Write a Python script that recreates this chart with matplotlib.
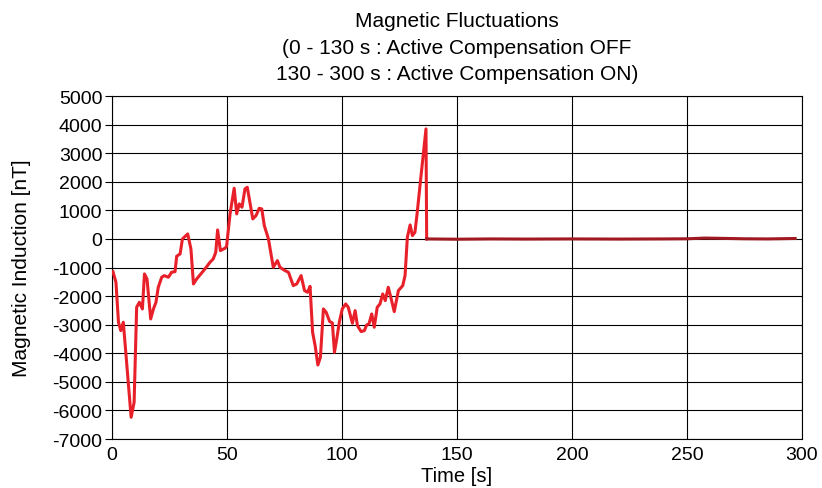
import matplotlib
matplotlib.use("Agg")
import matplotlib.pyplot as plt

plt.rcParams['font.family'] = ['Liberation Sans', 'DejaVu Sans']
plt.rcParams['axes.unicode_minus'] = False

# Active compensation OFF (0 - ~137 s)
t_off = [0.4, 1.7, 2.8, 3.8, 4.9, 8.3, 9.6, 10.7, 11.9, 13.2, 14.1, 15.2, 16.8, 18.0,
         19.1, 20.1, 21.6, 22.7, 24.5, 25.9, 27.4, 28.1, 29.6, 30.6, 32.9, 34.3, 35.4,
         36.8, 40.4, 42.6, 44.0, 45.1, 45.9, 47.1, 49.1, 49.8, 51.3, 53.1, 54.2, 55.3,
         56.5, 57.8, 58.8, 61.2, 62.6, 64.0, 65.1, 66.2, 68.0, 70.1, 71.9, 73.0, 75.2,
         76.7, 78.8, 80.3, 82.2, 83.7, 85.0, 86.1, 87.2, 88.3, 89.5, 90.6, 91.9, 93.1,
         94.6, 95.8, 96.7, 97.7, 98.8, 100.1, 101.6, 102.7, 104.5, 105.7, 106.7, 108.3,
         109.7, 110.7, 111.7, 112.9, 114.0, 115.3, 116.5, 117.7, 118.8, 120.1, 121.2,
         122.7, 124.5, 126.4, 127.4, 128.4, 129.6, 130.6, 131.7, 132.7, 134.2, 136.5]
v_off = [-1144, -1516, -2915, -3208, -2915, -6240, -5715, -2390, -2216, -2450, -1225,
         -1400, -2800, -2450, -2216, -1690, -1340, -1284, -1340, -1166, -1144, -606,
         -525, 0, 175, -350, -1575, -1400, -1050, -816, -700, -466, 315, -408, -326,
         -260, 870, 1773, 875, 1225, 1108, 1750, 1808, 700, 816, 1073, 1050, 466, 0,
         -991, -758, -991, -1108, -1166, -1633, -1575, -1283, -1808, -1866, -1660,
         -3266, -3733, -4410, -4140, -2450, -2566, -2887, -2940, -3966, -3500, -2916,
         -2450, -2275, -2391, -2950, -2508, -3033, -3243, -3208, -3010, -2975, -2624,
         -3090, -2391, -2275, -1925, -2158, -1691, -2041, -2543, -1808, -1633, -1283,
         58, 490, 117, 233, 933, 2100, 3850]

# Active compensation ON (~137 - 297 s)
t_on = [136.8, 150, 165, 180, 200, 220, 240, 250, 258, 265, 275, 285, 297]
v_on = [0, -10, 0, -5, 0, -5, 0, 5, 30, 20, 5, 0, 15]

fig = plt.figure(figsize=(8.22, 4.89), dpi=100)
ax = fig.add_axes([0.1363, 0.1002, 0.8394, 0.7014])

ax.plot(t_off + [t_on[0]], v_off + [v_on[0]], color='#e8202a', lw=2.2, zorder=3)
ax.plot(t_on, v_on, color='#a01820', lw=2.2, zorder=3)

ax.set_xlim(0, 300)
ax.set_ylim(-7000, 5000)
ax.set_xticks(range(0, 301, 50))
ax.set_yticks(range(-7000, 5001, 1000))
ax.grid(True, color='black', lw=0.8)
for s in ax.spines.values():
    s.set_color('black')
    s.set_linewidth(0.8)
ax.tick_params(axis='y', labelsize=14, length=5, pad=2, color='black')
ax.tick_params(axis='x', labelsize=14, length=0, pad=5)
ax.set_xlabel('Time [s]', fontsize=14.5, labelpad=2)
ax.set_ylabel('Magnetic Induction [nT]', fontsize=15, labelpad=15)
ax.set_title('Magnetic Fluctuations\n(0 - 130 s : Active Compensation OFF\n130 - 300 s : Active Compensation ON)',
             fontsize=15, linespacing=1.5, pad=12)

fig.savefig('out.png', dpi=100)
